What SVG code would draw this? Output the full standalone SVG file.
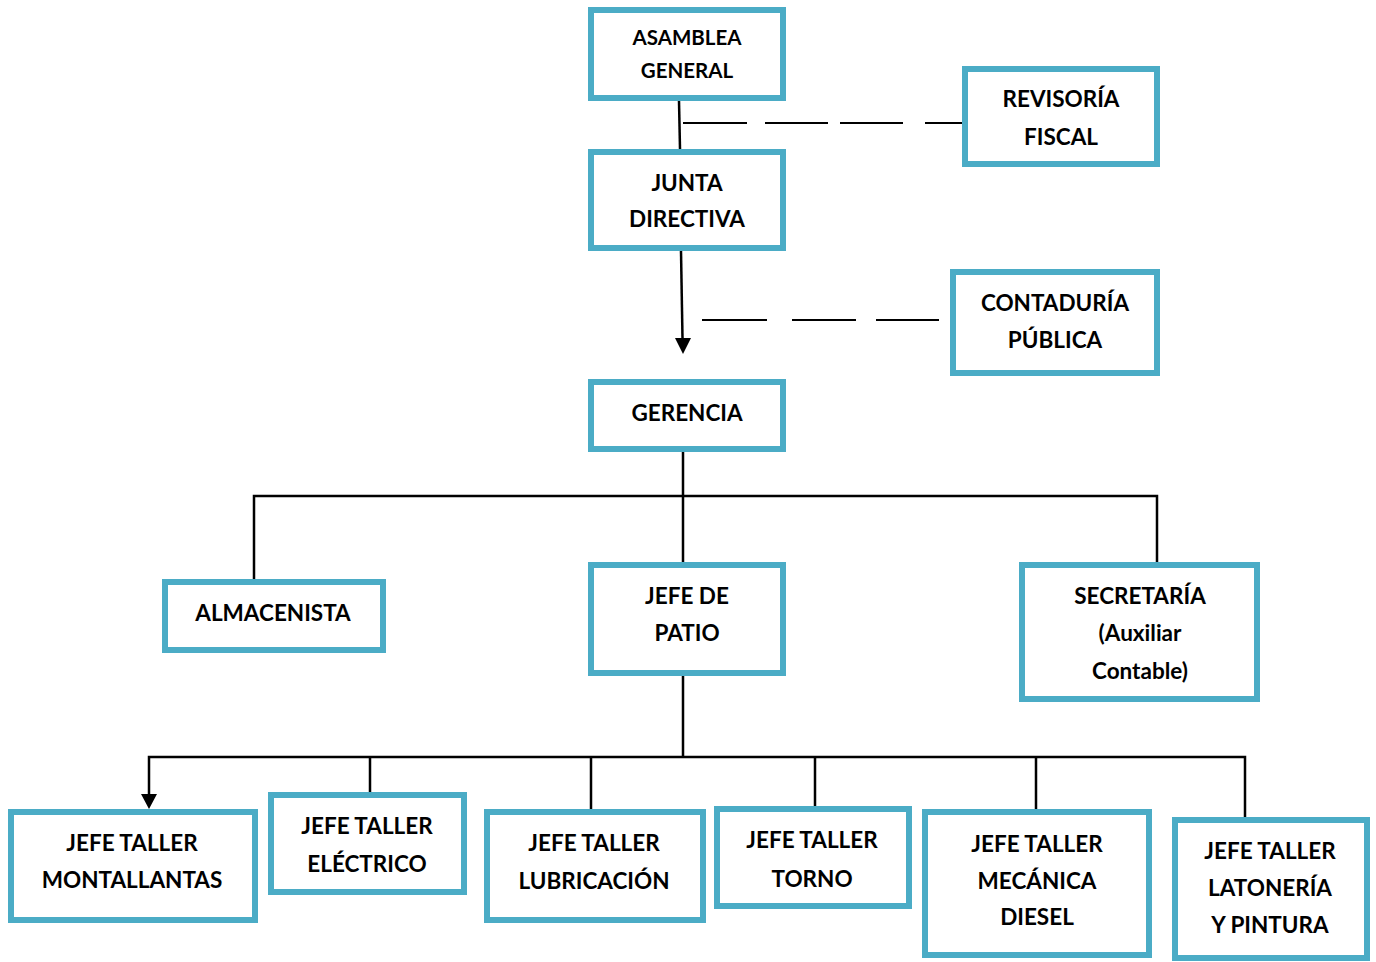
<svg xmlns="http://www.w3.org/2000/svg" width="1376" height="962" viewBox="0 0 1376 962">
  <style>
    .box { fill: #ffffff; stroke: #4BACC6; stroke-width: 6; }
    .lbl { font-family: "Lato", "Open Sans", "Liberation Sans", sans-serif; font-weight: bold; font-size: 22.5px; fill: #000000; text-anchor: middle; }
    .sm { font-size: 20.5px; }
    .ln { fill: none; stroke: #000000; stroke-width: 2.5; }
    .dash { fill: none; stroke: #000000; stroke-width: 2; }
  </style>
  <rect width="1376" height="962" fill="#ffffff"/>

  <!-- connectors -->
  <g id="connectors">
    <line class="ln" x1="679" y1="101" x2="680" y2="149"/>
    <path class="dash" d="M683,123 H747 M765,123 H828 M840,123 H903 M925,123 H962"/>
    <line class="ln" x1="681" y1="251" x2="682.5" y2="338"/>
    <polygon points="675,338 691,338 683,354" fill="#000000"/>
    <path class="dash" d="M702,320 H767 M792,320 H856 M876,320 H939"/>
    <path class="ln" d="M683,452 V496 M254,579 V496 H1157 V562 M683,496 V562"/>
    <path class="ln" d="M683,676 V757 M149,794 V757 H1245 V817 M370,757 V792 M591,757 V809 M815,757 V806 M1036,757 V809"/>
    <polygon points="141,794 157,794 149,809" fill="#000000"/>
  </g>

  <g id="asamblea">
    <rect class="box" x="591" y="10" width="192" height="88"/>
    <text class="lbl sm" x="687" y="45">ASAMBLEA</text>
    <text class="lbl sm" x="687" y="78">GENERAL</text>
  </g>
  <g id="revisoria">
    <rect class="box" x="965" y="69" width="192" height="95"/>
    <text class="lbl" x="1061" y="107">REVISORÍA</text>
    <text class="lbl" x="1061" y="145">FISCAL</text>
  </g>
  <g id="junta">
    <rect class="box" x="591" y="152" width="192" height="96"/>
    <text class="lbl" x="687" y="191">JUNTA</text>
    <text class="lbl" x="687" y="227">DIRECTIVA</text>
  </g>
  <g id="contaduria">
    <rect class="box" x="953" y="272" width="204" height="101"/>
    <text class="lbl" x="1055" y="311">CONTADURÍA</text>
    <text class="lbl" x="1055" y="348">PÚBLICA</text>
  </g>
  <g id="gerencia">
    <rect class="box" x="591" y="382" width="192" height="67"/>
    <text class="lbl" x="687" y="421">GERENCIA</text>
  </g>
  <g id="almacenista">
    <rect class="box" x="165" y="582" width="218" height="68"/>
    <text class="lbl" x="273" y="621">ALMACENISTA</text>
  </g>
  <g id="jefe-patio">
    <rect class="box" x="591" y="565" width="192" height="108"/>
    <text class="lbl" x="687" y="604">JEFE DE</text>
    <text class="lbl" x="687" y="641">PATIO</text>
  </g>
  <g id="secretaria">
    <rect class="box" x="1022" y="565" width="235" height="134"/>
    <text class="lbl" x="1140" y="604">SECRETARÍA</text>
    <text class="lbl" x="1140" y="641">(Auxiliar</text>
    <text class="lbl" x="1140" y="679">Contable)</text>
  </g>
  <g id="montallantas">
    <rect class="box" x="11" y="812" width="244" height="108"/>
    <text class="lbl" x="132" y="851">JEFE TALLER</text>
    <text class="lbl" x="132" y="888">MONTALLANTAS</text>
  </g>
  <g id="electrico">
    <rect class="box" x="271" y="795" width="193" height="97"/>
    <text class="lbl" x="367" y="834">JEFE TALLER</text>
    <text class="lbl" x="367" y="872">ELÉCTRICO</text>
  </g>
  <g id="lubricacion">
    <rect class="box" x="487" y="812" width="216" height="108"/>
    <text class="lbl" x="594" y="851">JEFE TALLER</text>
    <text class="lbl" x="594" y="889">LUBRICACIÓN</text>
  </g>
  <g id="torno">
    <rect class="box" x="717" y="809" width="192" height="97"/>
    <text class="lbl" x="812" y="848">JEFE TALLER</text>
    <text class="lbl" x="812" y="887">TORNO</text>
  </g>
  <g id="mecanica">
    <rect class="box" x="925" y="812" width="224" height="143"/>
    <text class="lbl" x="1037" y="852">JEFE TALLER</text>
    <text class="lbl" x="1037" y="889">MECÁNICA</text>
    <text class="lbl" x="1037" y="925">DIESEL</text>
  </g>
  <g id="latoneria">
    <rect class="box" x="1175" y="820" width="192" height="138"/>
    <text class="lbl" x="1270" y="859">JEFE TALLER</text>
    <text class="lbl" x="1270" y="896">LATONERÍA</text>
    <text class="lbl" x="1270" y="933">Y PINTURA</text>
  </g>
</svg>
